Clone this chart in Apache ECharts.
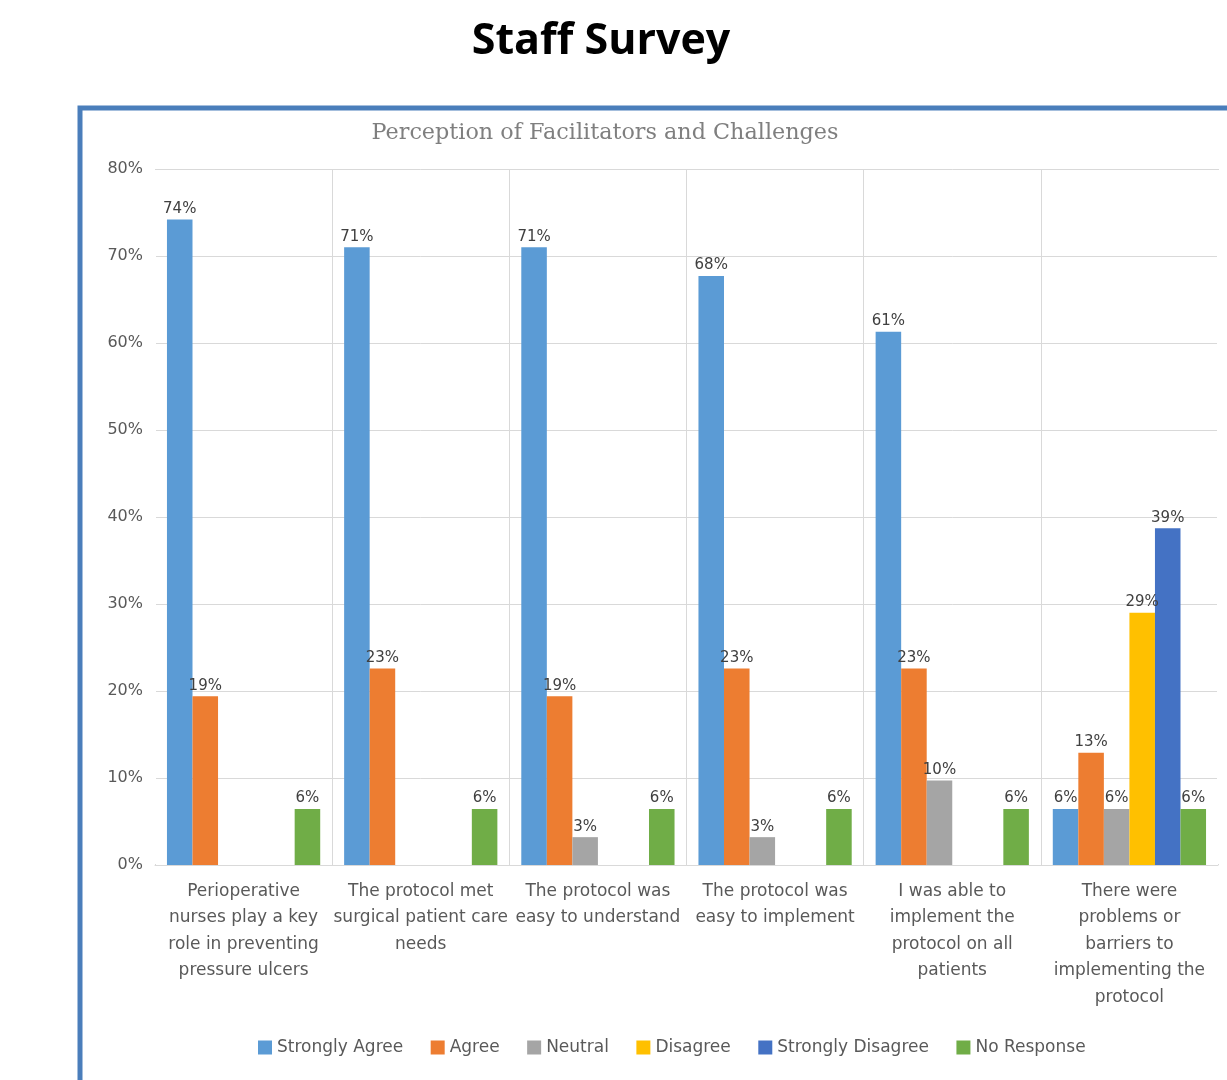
<!DOCTYPE html>
<html>
<head>
<meta charset="utf-8">
<script src="https://cdn.jsdelivr.net/npm/echarts@6/dist/echarts.min.js"></script>
<style>
  html, body { margin: 0; padding: 0; background: #fff; }
  #chart { width: 1227px; height: 1080px; }
</style>
</head>
<body>
<div id="chart"></div>
<script>
const categories = [
  'Perioperative\nnurses play a key\nrole in preventing\npressure ulcers',
  'The protocol met\nsurgical patient care\nneeds',
  'The protocol was\neasy to understand',
  'The protocol was\neasy to implement',
  'I was able to\nimplement the\nprotocol on all\npatients',
  'There were\nproblems or\nbarriers to\nimplementing the\nprotocol'
];
const stronglyAgree = [74.2, 71.0, 71.0, 67.7, 61.3, 6.45];
const agree = [19.4, 22.6, 19.4, 22.6, 22.6, 12.9];
const neutral = [null, null, 3.2, 3.2, 9.7, 6.45];
const disagree = [null, null, null, null, null, 29.0];
const stronglyDisagree = [null, null, null, null, null, 38.7];
const noResponse = [6.45, 6.45, 6.45, 6.45, 6.45, 6.45];
const yTicks = [0, 10, 20, 30, 40, 50, 60, 70, 80];

const seriesDefs = [
  ['Strongly Agree', stronglyAgree, '#5b9bd5'],
  ['Agree', agree, '#ed7d31'],
  ['Neutral', neutral, '#a5a5a5'],
  ['Disagree', disagree, '#ffc000'],
  ['Strongly Disagree', stronglyDisagree, '#4472c4'],
  ['No Response', noResponse, '#70ad47']
];

const font = '"DejaVu Sans", "Noto Sans", sans-serif';
let myChart = echarts.init(document.getElementById('chart'));
myChart.setOption({
  animation: false,
  title: [{
    text: 'Staff Survey',
    left: 596, top: 15, textAlign: 'center',
    textStyle: { fontFamily: '"Open Sans", "Noto Sans", sans-serif', fontWeight: 'bold', fontSize: 43, color: '#000' }
  }, {
    text: 'Perception of Facilitators and Challenges',
    left: 600, top: 117, textAlign: 'center',
    textStyle: { fontFamily: '"DejaVu Serif", "Liberation Serif", serif', fontWeight: 'normal', fontSize: 22.3, color: '#7f7f7f' }
  }],
  graphic: [{
    type: 'rect',
    z: -10,
    shape: { x: 80, y: 108, width: 1300, height: 1100 },
    style: { fill: '#fff', stroke: '#4a7ebb', lineWidth: 5 }
  }, {
    // hide the outer category boundaries, as in the original
    type: 'rect', z: 50,
    shape: { x: 154, y: 170, width: 2, height: 694 },
    style: { fill: '#fff' }
  }, {
    type: 'rect', z: 50,
    shape: { x: 1217, y: 170, width: 3, height: 694 },
    style: { fill: '#fff' }
  }],
  legend: {
    left: 253, top: 1034,
    icon: 'rect', itemWidth: 14, itemHeight: 14, itemGap: 27.5,
    textStyle: { fontFamily: font, fontSize: 17, color: '#595959' },
    data: seriesDefs.map(s => s[0])
  },
  grid: { left: 155, right: 9, top: 169, bottom: 215, containLabel: false },
  xAxis: {
    type: 'category',
    data: categories,
    axisLine: { lineStyle: { color: '#d9d9d9', width: 1 } },
    axisTick: { show: false },
    splitLine: { show: true, lineStyle: { color: '#d9d9d9', width: 1 } },
    axisLabel: {
      interval: 0, margin: 13, lineHeight: 26.5,
      fontFamily: font, fontSize: 17, color: '#595959'
    }
  },
  yAxis: {
    type: 'value',
    min: 0, max: 80, interval: 10,
    axisLine: { show: false },
    axisTick: { show: false },
    splitLine: { lineStyle: { color: '#d9d9d9', width: 1 } },
    axisLabel: {
      margin: 12, fontFamily: font, fontSize: 16, color: '#595959',
      formatter: v => yTicks.includes(v) ? v + '%' : ''
    }
  },
  series: seriesDefs.map(([name, data, color]) => ({
    name: name,
    type: 'bar',
    data: data,
    barGap: '0%',
    barCategoryGap: '13.5%',
    itemStyle: { color: color },
    label: {
      show: true, position: 'top', distance: 3,
      fontFamily: font, fontSize: 15, color: '#404040',
      formatter: p => Math.round(p.value) + '%'
    }
  }))
});

window.addEventListener('resize', function() {
  myChart.resize();
});
</script>
</body>
</html>
